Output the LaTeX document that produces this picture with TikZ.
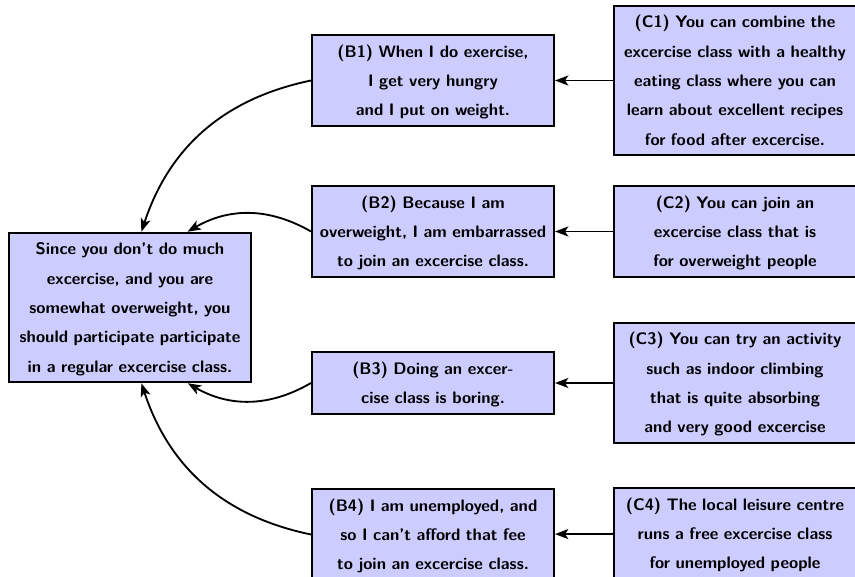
\documentclass[tikz,border=0pt]{standalone}
\usetikzlibrary{arrows.meta}
\definecolor{boxfill}{RGB}{204,204,255}
\begin{document}
\begin{tikzpicture}[x=0.6pt,y=0.6pt,
  argbox/.style={draw=black, fill=boxfill, line width=1.1pt,
    text width=141.3pt, align=center, inner xsep=2pt, inner ysep=0.9pt,
    font=\sffamily\bfseries\fontsize{10}{17.6}\selectfont,
    execute at begin node=\strut, execute at end node=\strut},
  link/.style={-{Stealth[length=8pt,width=6pt,inset=2pt]}, line width=1.1pt}]
\useasboundingbox (0,0) rectangle (855,-577);
\clip (0,0) rectangle (855,-577);

% claim
\node[argbox] (A) at (130,-307.5) {Since you don't do much\\ excercise, and you are\\ somewhat overweight, you\\ should participate participate\\ in a regular excercise class.};

% objections
\node[argbox] (B1) at (433,-80.5) {(B1) When I do exercise,\\ I get very hungry\\ and I put on weight.};
\node[argbox] (B2) at (433,-231.5) {(B2) Because I am\\ overweight, I am embarrassed\\ to join an excercise class.};
\node[argbox] (B3) at (433,-383) {(B3) Doing an excer-\\cise class is boring.};
\node[argbox] (B4) at (433,-534.5) {(B4) I am unemployed, and\\ so I can't afford that fee\\ to join an excercise class.};

% rebuttals
\node[argbox] (C1) at (735,-80.5) {(C1) You can combine the\\ excercise class with a healthy\\ eating class where you can\\ learn about excellent recipes\\ for food after excercise.};
\node[argbox] (C2) at (735,-231.5) {(C2) You can join an\\ excercise class that is\\ for overweight people};
\node[argbox] (C3) at (735,-383) {(C3) You can try an activity\\ such as indoor climbing\\ that is quite absorbing\\ and very good excercise};
\node[argbox] (C4) at (735,-533.5) {(C4) The local leisure centre\\ runs a free excercise class\\ for unemployed people};

% rebuttal -> objection
\draw[link] (C1) -- (B1);
\draw[link] (C2) -- (B2);
\draw[link] (C3) -- (B3);
\draw[link] (C4) -- (B4);

% objection -> claim
\draw[link] (B1.west) to[bend right] (A);
\draw[link] (B2.west) to[bend right] (A);
\draw[link] (B3.west) to[bend left] (A);
\draw[link] (B4.west) to[bend left] (A);
\end{tikzpicture}
\end{document}
